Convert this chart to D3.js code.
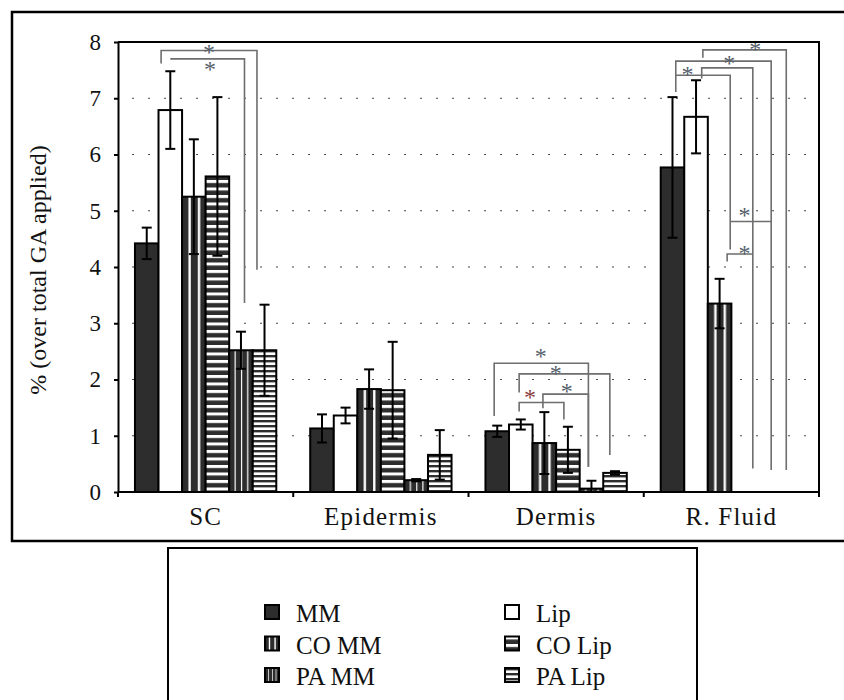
<!DOCTYPE html>
<html>
<head>
<meta charset="utf-8">
<title>GA distribution</title>
<style>
  body{margin:0; background:#fff;}
  text{font-family:"Liberation Serif","Times New Roman",serif; fill:#111;}
</style>
</head>
<body>
<script src="https://cdn.jsdelivr.net/npm/d3@7/dist/d3.min.js"></script>
<script>
  var categories = ["SC", "Epidermis", "Dermis", "R. Fluid"];
  var series = ["MM", "Lip", "CO MM", "CO Lip", "PA MM", "PA Lip"];
  var yTicks = [0, 1, 2, 3, 4, 5, 6, 7, 8];

  // mean per series, one value per category (null = no bar)
  var valMM    = [4.42, 1.13, 1.08, 5.77];
  var valLip   = [6.79, 1.36, 1.20, 6.67];
  var valCOMM  = [5.25, 1.83, 0.87, 3.35];
  var valCOLip = [5.61, 1.81, 0.75, null];
  var valPAMM  = [2.52, 0.21, 0.06, null];
  var valPALip = [2.52, 0.66, 0.34, null];

  // error bar half widths
  var errMM    = [0.28, 0.25, 0.10, 1.25];
  var errLip   = [0.69, 0.14, 0.09, 0.65];
  var errCOMM  = [1.02, 0.35, 0.55, 0.44];
  var errCOLip = [1.41, 0.86, 0.41, null];
  var errPAMM  = [0.33, 0.02, 0.14, null];
  var errPALip = [0.81, 0.44, 0.03, null];

  // significance brackets: category, left bar pos, right bar pos, level, left leg end, right leg end
  var brackets = [
    [0, 0.61, 4.68, 7.85, 7.62, 3.95],
    [0, 1.00, 4.15, 7.70, 7.70, 3.36],
    [2, -0.13, 3.87, 2.29, 1.35, 0.45],
    [2, 0.93, 4.78, 2.10, 1.77, 0.66],
    [2, 0.93, 2.83, 1.59, 1.43, 1.29],
    [2, 1.94, 3.87, 1.74, 1.49, 0.45],
    [3, 1.29, 4.83, 7.86, 7.72, 0.39],
    [3, 0.14, 4.19, 7.66, 7.11, 0.39],
    [3, 1.24, 3.41, 7.54, 7.35, 0.42],
    [3, 0.14, 2.45, 7.41, 7.41, 4.31],
    [3, 2.45, 4.19, 4.81, 4.81, 4.81],
    [3, 2.32, 3.41, 4.23, 4.10, 4.23]
  ];
  // asterisks: category, bar pos, level, red?
  var stars = [
    [0, 2.64, 7.89, 0], [0, 2.69, 7.59, 0],
    [2, 1.85, 2.49, 0], [2, 2.48, 2.19, 0], [2, 1.39, 1.76, 1], [2, 2.95, 1.87, 0],
    [3, 3.51, 7.95, 0], [3, 2.41, 7.69, 0], [3, 0.64, 7.51, 0], [3, 3.06, 4.99, 0], [3, 3.06, 4.32, 0]
  ];

  var values = [valMM, valLip, valCOMM, valCOLip, valPAMM, valPALip];
  var errors = [errMM, errLip, errCOMM, errCOLip, errPAMM, errPALip];

  var width = 844, height = 700;
  var plotL = 118, plotR = 819, plotT = 42, plotB = 492;

  var svg = d3.select('body').append('svg')
      .attr('width', width)
      .attr('height', height);

  var defs = svg.append('defs');
  var dark = '#2d2d2d';

  function bboxPattern(id, stripes){
    var p = defs.append('pattern').attr('id', id)
      .attr('patternUnits', 'objectBoundingBox')
      .attr('patternContentUnits', 'objectBoundingBox')
      .attr('width', 1).attr('height', 1);
    p.append('rect').attr('width', 1).attr('height', 1).attr('fill', dark);
    stripes.forEach(function(s){
      p.append('rect').attr('x', s[0]).attr('width', s[1]).attr('height', 1).attr('fill', '#fff');
    });
  }
  bboxPattern('p-comm', [[0.27, 0.10], [0.67, 0.10]]);
  bboxPattern('p-pamm', [[0.23, 0.05], [0.50, 0.05], [0.76, 0.05]]);

  function hPattern(id, h, darkH, bg){
    var p = defs.append('pattern').attr('id', id)
      .attr('patternUnits', 'userSpaceOnUse')
      .attr('width', 8).attr('height', h);
    p.append('rect').attr('width', 8).attr('height', h).attr('fill', bg);
    p.append('rect').attr('width', 8).attr('height', darkH).attr('fill', bg == '#fff' ? dark : '#fff');
  }
  hPattern('p-colip', 7.5, 3, dark);
  hPattern('p-palip', 5, 2.4, '#fff');

  var fills = [dark, '#fff', 'url(#p-comm)', 'url(#p-colip)', 'url(#p-pamm)', 'url(#p-palip)'];

  var x0 = d3.scaleBand().domain(categories).range([plotL, plotR]);
  var x1 = d3.scaleBand().domain(series).range([0, x0.bandwidth()]).paddingOuter(0.72);
  var y = d3.scaleLinear().domain([0, 8]).range([plotB, plotT]);

  function bx(ci, pos){
    return x0(categories[ci]) + x1(series[0]) + x1.bandwidth() * (pos + 0.5);
  }

  // outer frame
  svg.append('rect').attr('x', 12).attr('y', 12).attr('width', 850).attr('height', 529)
    .attr('fill', 'none').attr('stroke', '#000').attr('stroke-width', 2.5);

  // gridlines
  svg.append('g').selectAll('line')
    .data(yTicks.filter(function(d){ return d > 0 && d < 8; }))
    .enter().append('line')
      .attr('x1', plotL + 14).attr('x2', plotR)
      .attr('y1', function(d){ return y(d); })
      .attr('y2', function(d){ return y(d); })
      .attr('stroke', '#444').attr('stroke-width', 1)
      .attr('stroke-dasharray', '2,14');

  // bars
  var rows = [];
  categories.forEach(function(c, ci){
    series.forEach(function(s, si){
      if(values[si][ci] != null) rows.push({c: c, s: s, si: si, v: values[si][ci], e: errors[si][ci]});
    });
  });

  svg.append('g').selectAll('rect')
    .data(rows)
    .enter().append('rect')
      .attr('x', function(d){ return x0(d.c) + x1(d.s); })
      .attr('y', function(d){ return y(d.v); })
      .attr('width', x1.bandwidth())
      .attr('height', function(d){ return y(0) - y(d.v); })
      .attr('fill', function(d){ return fills[d.si]; })
      .attr('stroke', '#000').attr('stroke-width', 2);

  // error bars
  var eg = svg.append('g').attr('stroke', '#000').attr('stroke-width', 2);
  rows.forEach(function(d){
    var cx = x0(d.c) + x1(d.s) + x1.bandwidth() / 2;
    var lo = Math.max(0, d.v - d.e), hi = d.v + d.e;
    eg.append('line').attr('x1', cx).attr('x2', cx).attr('y1', y(lo)).attr('y2', y(hi));
    eg.append('line').attr('x1', cx - 5).attr('x2', cx + 5).attr('y1', y(hi)).attr('y2', y(hi));
    if(lo > 0) eg.append('line').attr('x1', cx - 5).attr('x2', cx + 5).attr('y1', y(lo)).attr('y2', y(lo));
  });

  // significance brackets
  var line = d3.line();
  svg.append('g').selectAll('path')
    .data(brackets)
    .enter().append('path')
      .attr('d', function(b){
        return line([
          [bx(b[0], b[1]), y(b[4])], [bx(b[0], b[1]), y(b[3])],
          [bx(b[0], b[2]), y(b[3])], [bx(b[0], b[2]), y(b[5])]
        ]);
      })
      .attr('fill', 'none').attr('stroke', '#6e6e6e').attr('stroke-width', 1.6);

  svg.append('g').selectAll('text')
    .data(stars)
    .enter().append('text')
      .attr('x', function(s){ return bx(s[0], s[1]); })
      .attr('y', function(s){ return y(s[2]) + 12; })
      .attr('text-anchor', 'middle')
      .style('font-size', '24px')
      .style('fill', function(s){ return s[3] ? '#8b4040' : '#55606a'; })
      .text('*');

  // plot frame (top and right)
  svg.append('path')
    .attr('d', line([[plotL, plotT], [plotR, plotT], [plotR, plotB]]))
    .attr('fill', 'none').attr('stroke', '#000').attr('stroke-width', 2);

  // y axis
  var yAxis = svg.append('g')
    .attr('transform', 'translate(' + plotL + ',0)')
    .call(d3.axisLeft(y).tickValues(yTicks).tickSize(4).tickPadding(13).tickSizeOuter(0));
  yAxis.select('.domain').attr('stroke-width', 2);
  yAxis.selectAll('.tick line').attr('stroke-width', 2);
  yAxis.selectAll('text').style('font-size', '23px').style('font-family', '"Liberation Serif", serif').attr('fill', '#111');

  // x axis line with separators
  svg.append('line').attr('x1', plotL).attr('x2', plotR).attr('y1', plotB).attr('y2', plotB)
    .attr('stroke', '#000').attr('stroke-width', 2);
  svg.append('g').selectAll('line')
    .data(categories.concat(['end']))
    .enter().append('line')
      .attr('x1', function(c){ return c == 'end' ? plotR : x0(c); })
      .attr('x2', function(c){ return c == 'end' ? plotR : x0(c); })
      .attr('y1', plotB).attr('y2', plotB + 5)
      .attr('stroke', '#000').attr('stroke-width', 2);

  svg.append('g').selectAll('text')
    .data(categories)
    .enter().append('text')
      .attr('x', function(c){ return x0(c) + x0.bandwidth() / 2; })
      .attr('y', 525)
      .attr('text-anchor', 'middle')
      .style('font-size', '25px')
      .style('letter-spacing', '1.2px')
      .text(function(c){ return c; });

  // y title
  svg.append('text')
    .attr('transform', 'translate(46,270) rotate(-90)')
    .attr('text-anchor', 'middle')
    .style('font-size', '24px')
    .text('% (over total GA applied)');

  // legend
  svg.append('rect').attr('x', 168).attr('y', 548).attr('width', 529).attr('height', 170)
    .attr('fill', '#fff').attr('stroke', '#000').attr('stroke-width', 2);

  var leg = svg.append('g').selectAll('g')
    .data(series)
    .enter().append('g')
      .attr('transform', function(d, i){
        return 'translate(' + (i % 2 ? 505 : 265) + ',' + (605 + Math.floor(i / 2) * 31.5) + ')';
      });
  leg.append('rect')
    .attr('width', 14).attr('height', 14)
    .attr('fill', function(d, i){ return fills[i]; })
    .attr('stroke', '#000').attr('stroke-width', 2);
  leg.append('text')
    .attr('x', 31).attr('y', 17)
    .style('font-size', '25px')
    .text(function(d){ return d; });
</script>
</body>
</html>
